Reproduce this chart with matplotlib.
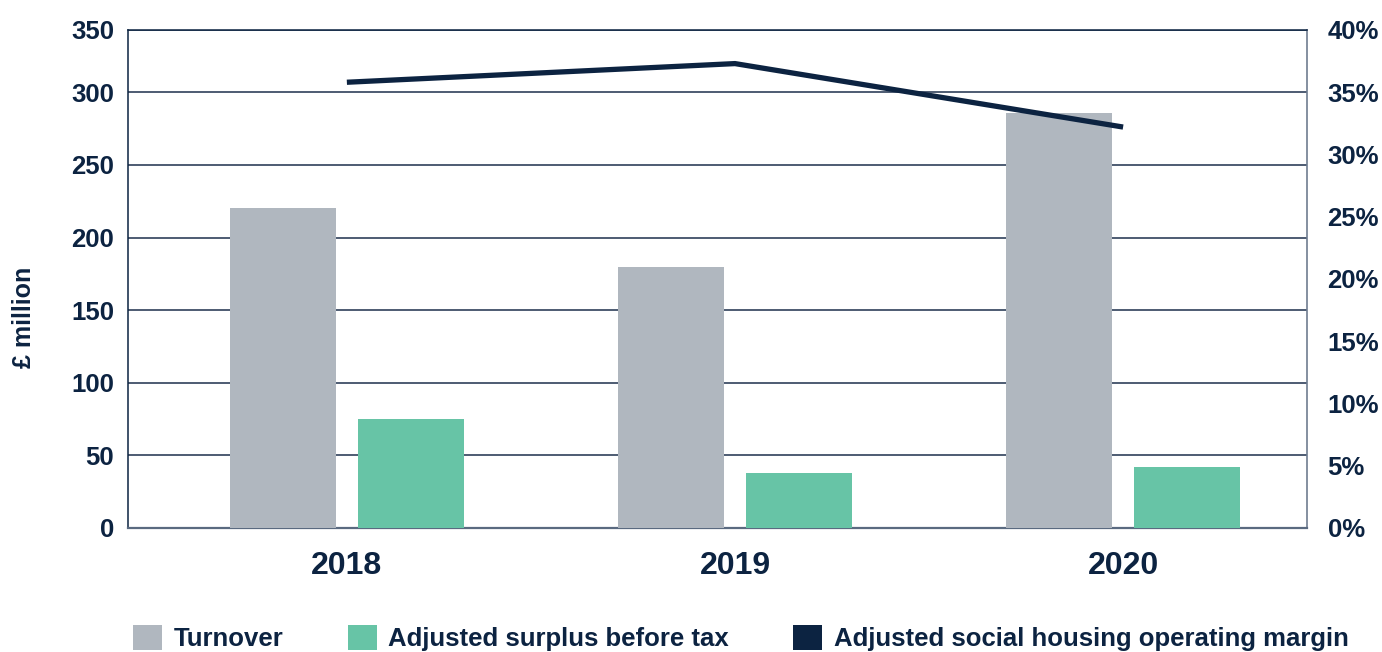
import matplotlib
matplotlib.use("Agg")
import matplotlib.pyplot as plt
from matplotlib.patches import Patch
import numpy as np

plt.rcParams['font.family'] = ['Liberation Sans', 'DejaVu Sans']
plt.rcParams['font.weight'] = 'bold'

# Data (£ million and margin as a fraction)
years = ["2018", "2019", "2020"]
turnover = [220, 180, 286]
surplus = [75, 38, 42]
margin = [0.358, 0.373, 0.322]

left_ticks = [0, 50, 100, 150, 200, 250, 300]
left_labels = ["0", "50", "100", "150", "200", "250", "300", "350"]
right_ticks = [0, 0.05, 0.10, 0.15, 0.20, 0.25, 0.30, 0.35, 0.40]
right_labels = ["0%", "5%", "10%", "15%", "20%", "25%", "30%", "35%", "40%"]

NAVY = "#0c2341"
GREY = "#b0b7bf"
GREEN = "#67c4a6"
GRID = "#1c2f4c"

LEFT_TOP = 343

fig = plt.figure(figsize=(13.82, 6.52), dpi=100)
ax = fig.add_axes([0.0926, 0.1906, 0.8529, 0.7634])

x = np.arange(len(years))
width = 0.273
offset = 0.165
ax.bar(x - offset, turnover, width, color=GREY, zorder=3)
ax.bar(x + offset, surplus, width, color=GREEN, zorder=3)

ax.set_xlim(-0.564, 2.473)
ax.set_ylim(0, LEFT_TOP)
ax.set_yticks(left_ticks + [LEFT_TOP])
ax.set_yticklabels(left_labels)
ax.set_xticks(x)
ax.set_xticklabels(years)

ax.yaxis.grid(True, color=GRID, linewidth=1.1, zorder=0)
ax.set_axisbelow(True)

ax.tick_params(axis='y', length=0, pad=10, labelsize=18.5, labelcolor=NAVY)
ax.tick_params(axis='x', length=0, pad=17, labelsize=23, labelcolor=NAVY)

for side in ["left", "top"]:
    ax.spines[side].set_color(NAVY)
    ax.spines[side].set_linewidth(1.1)
ax.spines["bottom"].set_color("#5a6a80")
ax.spines["bottom"].set_linewidth(1.6)
ax.spines["right"].set_color("#6f7d90")
ax.spines["right"].set_linewidth(1.2)

ax.set_ylabel("£ million", fontsize=18, color=NAVY, fontweight='bold')
ax.yaxis.set_label_coords(-0.078, 0.423)

ax2 = ax.twinx()
ax2.set_ylim(0, 0.40)
ax2.set_yticks(right_ticks)
ax2.set_yticklabels(right_labels)
ax2.tick_params(axis='y', length=0, pad=15, labelsize=18.5, labelcolor=NAVY)
for s in ax2.spines.values():
    s.set_visible(False)
ax2.plot(x, margin, color=NAVY, linewidth=3.8, solid_capstyle='butt',
         solid_joinstyle='miter', zorder=5)

handles = [
    Patch(facecolor=GREY, edgecolor='none', label="Turnover"),
    Patch(facecolor=GREEN, edgecolor='none', label="Adjusted surplus before tax"),
    Patch(facecolor=NAVY, edgecolor='none', label="Adjusted social housing operating margin"),
]
fig.legend(handles=handles, loc='center', bbox_to_anchor=(0.536, 0.022), ncol=3,
           frameon=False, prop={'size': 18.5, 'weight': 'bold'},
           handlelength=1.13, handleheight=1.13, handletextpad=0.45,
           columnspacing=2.5, labelcolor=NAVY)

fig.savefig("out.png", dpi=100)
